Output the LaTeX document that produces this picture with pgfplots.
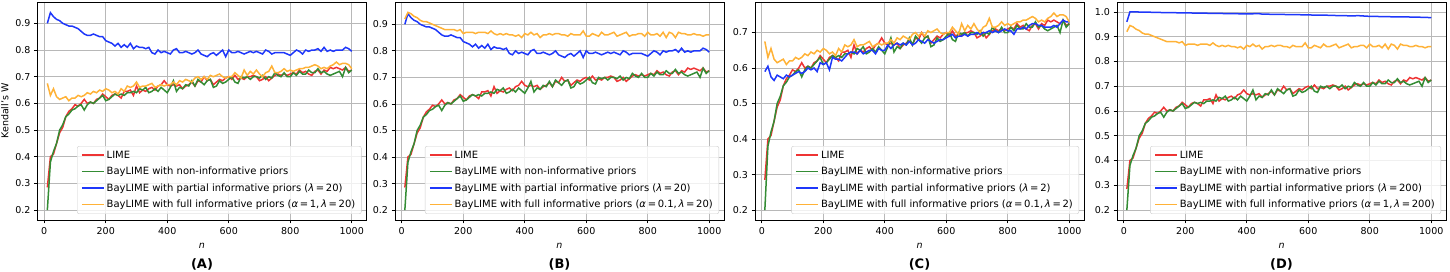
\documentclass[border=0pt]{standalone}
\usepackage{fontspec}
\setmainfont{DejaVu Sans}
\usepackage{pgfplots}
\usepackage{pgfplotstable}
\pgfplotsset{compat=1.18}

\definecolor{cLime}{RGB}{238,52,52}
\definecolor{cNon}{RGB}{52,140,52}
\definecolor{cPart}{RGB}{30,55,250}
\definecolor{cFull}{RGB}{255,178,55}

\pgfplotstableread{
n lime non p20 fa fb p2
10 0.285 0.200 0.900 0.675 0.920 0.590
20 0.400 0.380 0.940 0.630 0.945 0.605
30 0.410 0.420 0.925 0.655 0.940 0.575
40 0.450 0.450 0.915 0.625 0.930 0.565
50 0.490 0.500 0.910 0.615 0.925 0.580
60 0.510 0.520 0.900 0.620 0.915 0.575
70 0.550 0.550 0.895 0.625 0.910 0.570
80 0.570 0.560 0.890 0.610 0.910 0.580
90 0.580 0.575 0.890 0.620 0.905 0.575
100 0.595 0.580 0.885 0.620 0.900 0.580
110 0.590 0.590 0.880 0.630 0.895 0.585
120 0.600 0.595 0.870 0.625 0.890 0.590
130 0.615 0.575 0.860 0.630 0.885 0.585
140 0.600 0.595 0.855 0.640 0.880 0.590
150 0.605 0.605 0.855 0.635 0.880 0.600
160 0.600 0.600 0.860 0.645 0.880 0.595
170 0.615 0.610 0.855 0.640 0.880 0.600
180 0.620 0.620 0.850 0.650 0.875 0.590
190 0.635 0.630 0.850 0.645 0.880 0.615
200 0.625 0.610 0.835 0.655 0.865 0.610
210 0.615 0.615 0.830 0.650 0.870 0.615
220 0.630 0.625 0.825 0.640 0.870 0.595
230 0.635 0.635 0.815 0.645 0.870 0.630
240 0.630 0.630 0.825 0.635 0.865 0.625
250 0.620 0.635 0.810 0.655 0.870 0.625
260 0.645 0.630 0.820 0.645 0.870 0.620
270 0.645 0.640 0.810 0.665 0.870 0.630
280 0.650 0.640 0.825 0.660 0.865 0.640
290 0.630 0.645 0.805 0.665 0.875 0.645
300 0.665 0.640 0.815 0.680 0.865 0.645
310 0.640 0.655 0.810 0.660 0.860 0.640
320 0.650 0.650 0.810 0.665 0.865 0.650
330 0.645 0.660 0.805 0.665 0.860 0.640
340 0.655 0.640 0.810 0.670 0.865 0.645
350 0.660 0.645 0.790 0.675 0.860 0.650
360 0.650 0.655 0.785 0.660 0.860 0.650
370 0.665 0.645 0.800 0.665 0.855 0.640
380 0.670 0.660 0.790 0.670 0.860 0.655
390 0.685 0.650 0.795 0.665 0.850 0.650
400 0.670 0.640 0.790 0.670 0.865 0.650
410 0.665 0.660 0.785 0.670 0.860 0.665
420 0.670 0.685 0.800 0.680 0.870 0.655
430 0.665 0.645 0.805 0.670 0.860 0.665
440 0.670 0.660 0.790 0.685 0.865 0.670
450 0.655 0.655 0.790 0.680 0.850 0.665
460 0.665 0.670 0.795 0.690 0.860 0.670
470 0.670 0.665 0.790 0.685 0.860 0.665
480 0.680 0.685 0.785 0.680 0.865 0.675
490 0.665 0.665 0.790 0.695 0.860 0.665
500 0.685 0.690 0.800 0.700 0.865 0.670
510 0.680 0.680 0.785 0.690 0.865 0.680
520 0.700 0.670 0.780 0.700 0.860 0.675
530 0.685 0.685 0.775 0.690 0.860 0.670
540 0.690 0.690 0.785 0.705 0.855 0.680
550 0.670 0.660 0.790 0.700 0.865 0.675
560 0.680 0.665 0.780 0.705 0.860 0.670
570 0.690 0.685 0.790 0.710 0.860 0.675
580 0.685 0.675 0.800 0.700 0.860 0.680
590 0.695 0.680 0.775 0.695 0.875 0.680
600 0.700 0.690 0.800 0.700 0.855 0.685
610 0.690 0.700 0.790 0.700 0.855 0.690
620 0.705 0.680 0.790 0.715 0.865 0.695
630 0.690 0.675 0.795 0.705 0.860 0.685
640 0.695 0.700 0.790 0.695 0.855 0.690
650 0.690 0.695 0.785 0.725 0.870 0.690
660 0.700 0.700 0.790 0.705 0.860 0.695
670 0.700 0.690 0.795 0.720 0.860 0.690
680 0.705 0.700 0.790 0.710 0.865 0.695
690 0.700 0.700 0.795 0.725 0.870 0.695
700 0.685 0.695 0.790 0.710 0.855 0.700
710 0.690 0.705 0.785 0.700 0.860 0.695
720 0.700 0.690 0.800 0.715 0.865 0.700
730 0.685 0.700 0.795 0.720 0.870 0.700
740 0.695 0.695 0.785 0.740 0.855 0.705
750 0.705 0.715 0.790 0.715 0.860 0.700
760 0.710 0.705 0.790 0.715 0.860 0.705
770 0.705 0.700 0.790 0.720 0.865 0.700
780 0.710 0.715 0.790 0.730 0.865 0.705
790 0.705 0.700 0.785 0.720 0.855 0.710
800 0.710 0.700 0.780 0.725 0.870 0.705
810 0.715 0.715 0.790 0.720 0.860 0.705
820 0.710 0.705 0.800 0.725 0.860 0.695
830 0.725 0.720 0.795 0.730 0.865 0.710
840 0.715 0.710 0.785 0.730 0.855 0.710
850 0.720 0.710 0.800 0.735 0.870 0.715
860 0.710 0.725 0.795 0.735 0.850 0.710
870 0.705 0.715 0.800 0.740 0.870 0.720
880 0.720 0.715 0.800 0.745 0.865 0.725
890 0.725 0.730 0.805 0.740 0.850 0.725
900 0.710 0.715 0.795 0.730 0.870 0.720
910 0.725 0.720 0.810 0.735 0.865 0.720
920 0.720 0.710 0.795 0.730 0.865 0.715
930 0.735 0.705 0.800 0.740 0.860 0.715
940 0.730 0.710 0.795 0.745 0.860 0.715
950 0.735 0.715 0.800 0.755 0.865 0.720
960 0.730 0.720 0.800 0.745 0.860 0.715
970 0.725 0.700 0.800 0.750 0.860 0.725
980 0.735 0.735 0.810 0.750 0.855 0.735
990 0.720 0.715 0.805 0.745 0.860 0.730
1000 0.725 0.725 0.795 0.730 0.860 0.730
}\datamain

\pgfplotstableread{
n p200
10 0.960
20 1.000
30 1.000
40 1.000
60 0.999
80 0.999
100 0.998
150 0.997
200 0.996
250 0.995
300 0.994
350 0.993
400 0.992
440 0.993
450 0.991
500 0.990
550 0.989
600 0.988
620 0.987
650 0.987
700 0.985
750 0.984
760 0.985
800 0.982
850 0.981
880 0.980
900 0.980
950 0.979
1000 0.977
}\datapd

\pgfplotsset{
 panel/.style={
  scale only axis, width=329pt, height=218pt,
  xmin=-22, xmax=1048,
  xtick={0,200,400,600,800,1000},
  xtick pos=bottom, ytick pos=left,
  tick align=outside, major tick length=3.5pt,
  tick style={black, line width=0.8pt},
  axis line style={line width=0.8pt},
  grid=major, grid style={color=black!28, line width=0.8pt},
  /pgf/number format/assume math mode=true,
  xticklabel style={/pgf/number format/1000 sep={}},
  yticklabel style={/pgf/number format/.cd, fixed, fixed zerofill, precision=1},
  tick label style={font=\fontsize{9.5}{11}\selectfont},
  label style={font=\fontsize{9.5}{11}\selectfont},
  xlabel={\textit{n}},
  xlabel style={yshift=-2pt},
  title style={font=\fontsize{13}{15}\selectfont\bfseries, at={(0.5,0)}, anchor=center, yshift=-50pt},
  legend cell align=left,
  legend style={font=\fontsize{10}{12}\selectfont, at={(1,0)}, anchor=south east, xshift=-5pt, yshift=6pt, draw=black!20, rounded corners=2pt, fill=white, fill opacity=0.8, text opacity=1, row sep=3.5pt, inner xsep=4pt, inner ysep=2.5pt},
  legend image code/.code={\draw[#1] (0pt,0pt) -- (22pt,0pt);},
  every axis plot/.append style={line width=1.5pt, no markers},
 }
}

\begin{document}
\begin{tikzpicture}
\useasboundingbox (0,0) rectangle (1450pt,272pt);

% (A)
\begin{axis}[panel, at={(37.5pt,52pt)}, anchor=south west,
  ymin=0.163, ymax=0.98, ytick={0.2,0.3,0.4,0.5,0.6,0.7,0.8,0.9},
  ylabel={Kendall's W}, title={(A)}]
\addplot[cLime] table[x=n,y=lime] {\datamain};
\addplot[cNon] table[x=n,y=non] {\datamain};
\addplot[cPart] table[x=n,y=p20] {\datamain};
\addplot[cFull] table[x=n,y=fa] {\datamain};
\legend{LIME, BayLIME with non-informative priors, {BayLIME with partial informative priors (\textit{λ}\,=\,20)}, {BayLIME with full informative priors (\textit{α}\,=\,1,\,\textit{λ}\,=\,20)}}
\end{axis}

% (B)
\begin{axis}[panel, at={(395pt,52pt)}, anchor=south west,
  ymin=0.1627, ymax=0.984, ytick={0.2,0.3,0.4,0.5,0.6,0.7,0.8,0.9},
  title={(B)}]
\addplot[cLime] table[x=n,y=lime] {\datamain};
\addplot[cNon] table[x=n,y=non] {\datamain};
\addplot[cPart] table[x=n,y=p20] {\datamain};
\addplot[cFull] table[x=n,y=fb] {\datamain};
\legend{LIME, BayLIME with non-informative priors, {BayLIME with partial informative priors (\textit{λ}\,=\,20)}, {BayLIME with full informative priors (\textit{α}\,=\,0.1,\,\textit{λ}\,=\,20)}}
\end{axis}

% (C)
\begin{axis}[panel, at={(755pt,52pt)}, anchor=south west,
  ymin=0.172, ymax=0.786, ytick={0.2,0.3,0.4,0.5,0.6,0.7},
  title={(C)}]
\addplot[cLime] table[x=n,y=lime] {\datamain};
\addplot[cNon] table[x=n,y=non] {\datamain};
\addplot[cPart] table[x=n,y=p2] {\datamain};
\addplot[cFull] table[x=n,y=fa] {\datamain};
\legend{LIME, BayLIME with non-informative priors, {BayLIME with partial informative priors (\textit{λ}\,=\,2)}, {BayLIME with full informative priors (\textit{α}\,=\,0.1,\,\textit{λ}\,=\,2)}}
\end{axis}

% (D)
\begin{axis}[panel, at={(1117pt,52pt)}, anchor=south west,
  ymin=0.16, ymax=1.04, ytick={0.2,0.3,0.4,0.5,0.6,0.7,0.8,0.9,1.0},
  title={(D)}]
\addplot[cLime] table[x=n,y=lime] {\datamain};
\addplot[cNon] table[x=n,y=non] {\datamain};
\addplot[cPart] table[x=n,y=p200] {\datapd};
\addplot[cFull] table[x=n,y=fb] {\datamain};
\legend{LIME, BayLIME with non-informative priors, {BayLIME with partial informative priors (\textit{λ}\,=\,200)}, {BayLIME with full informative priors (\textit{α}\,=\,1,\,\textit{λ}\,=\,200)}}
\end{axis}
\end{tikzpicture}
\end{document}
